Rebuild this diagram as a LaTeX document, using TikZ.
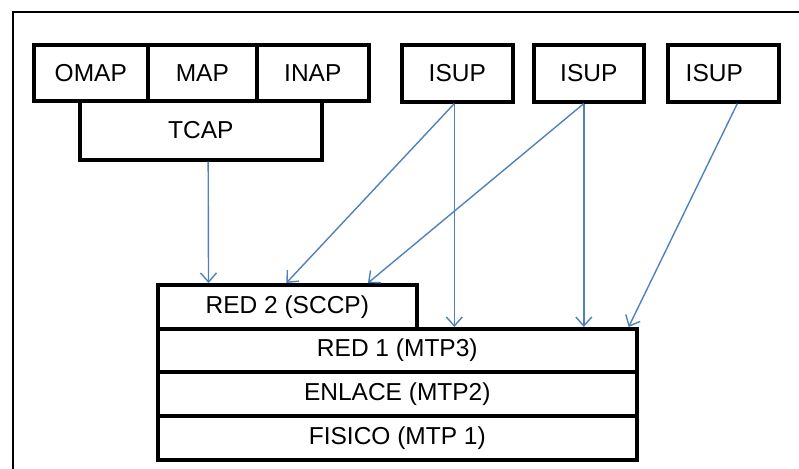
\documentclass[tikz,border=0pt]{standalone}
\usepackage{fontspec}
\setmainfont{Liberation Sans}
\usetikzlibrary{arrows.meta,calc}
\definecolor{arrowblue}{RGB}{79,129,189}
\begin{document}
\begin{tikzpicture}[x=1pt,y=-1pt,
  box/.style={draw=black, line width=3.6pt, fill=white, anchor=north west, inner sep=0pt,
    font=\fontsize{24.5}{28}\selectfont},
  link/.style={draw=arrowblue, line width=1.4pt, -{Straight Barb[length=9pt,width=16pt,line width=1.4pt]}},
  frame/.style={draw=black, line width=2.6pt}]
\useasboundingbox (0,0) rectangle (799,468);
\draw[frame] (13,470) -- (13,12) -- (801,12);
% upper boxes
\node[box, minimum width=114pt, minimum height=56pt] (omap) at (32,43) {OMAP};
\node[box, minimum width=109pt, minimum height=56pt] (map) at (146,43) {MAP};
\node[box, minimum width=112pt, minimum height=56pt] (inap) at (255,43) {INAP};
\node[box, minimum width=242pt, minimum height=59pt] (tcap) at (78,99) {TCAP};
\node[box, minimum width=111pt, minimum height=57pt] (isupa) at (400,43) {ISUP};
\node[box, minimum width=110pt, minimum height=57pt] (isupb) at (532,43) {ISUP};
\node[box, minimum width=111pt, minimum height=57pt, label={[xshift=-9pt,font=\fontsize{24.5}{28}\selectfont]center:ISUP}] (isupc) at (666,43) {};
% lower stack
\node[box, minimum width=259pt, minimum height=44pt] (red2) at (156,283) {RED 2 (SCCP)};
\node[box, minimum width=479pt, minimum height=43pt] (red1) at (156,327) {RED 1 (MTP3)};
\node[box, minimum width=479pt, minimum height=44pt] (enlace) at (156,370) {ENLACE (MTP2)};
\node[box, minimum width=479pt, minimum height=44pt] (fisico) at (156,414) {FISICO (MTP 1)};
% connectors
\coordinate (tcapout) at ($(tcap.south west)!0.53!(tcap.south east)$);
\coordinate (aout) at ([xshift=-3pt]isupa.south);
\coordinate (bout) at ([xshift=-5pt]isupb.south);
\coordinate (cout) at ([xshift=14pt]isupc.south);
\draw[link] (tcapout) -- ($(red2.north west)!0.2!(red2.north east)$);
\draw[link] (aout) -- ([xshift=-1pt]red2.north);
\draw[link] (aout) -- (red1.north -| aout);
\draw[link] (bout) -- ($(red2.north west)!0.807!(red2.north east)$);
\draw[link] (bout) -- (red1.north -| bout);
\draw[link] (cout) -- ([xshift=-10pt]red1.north east);
\end{tikzpicture}
\end{document}
